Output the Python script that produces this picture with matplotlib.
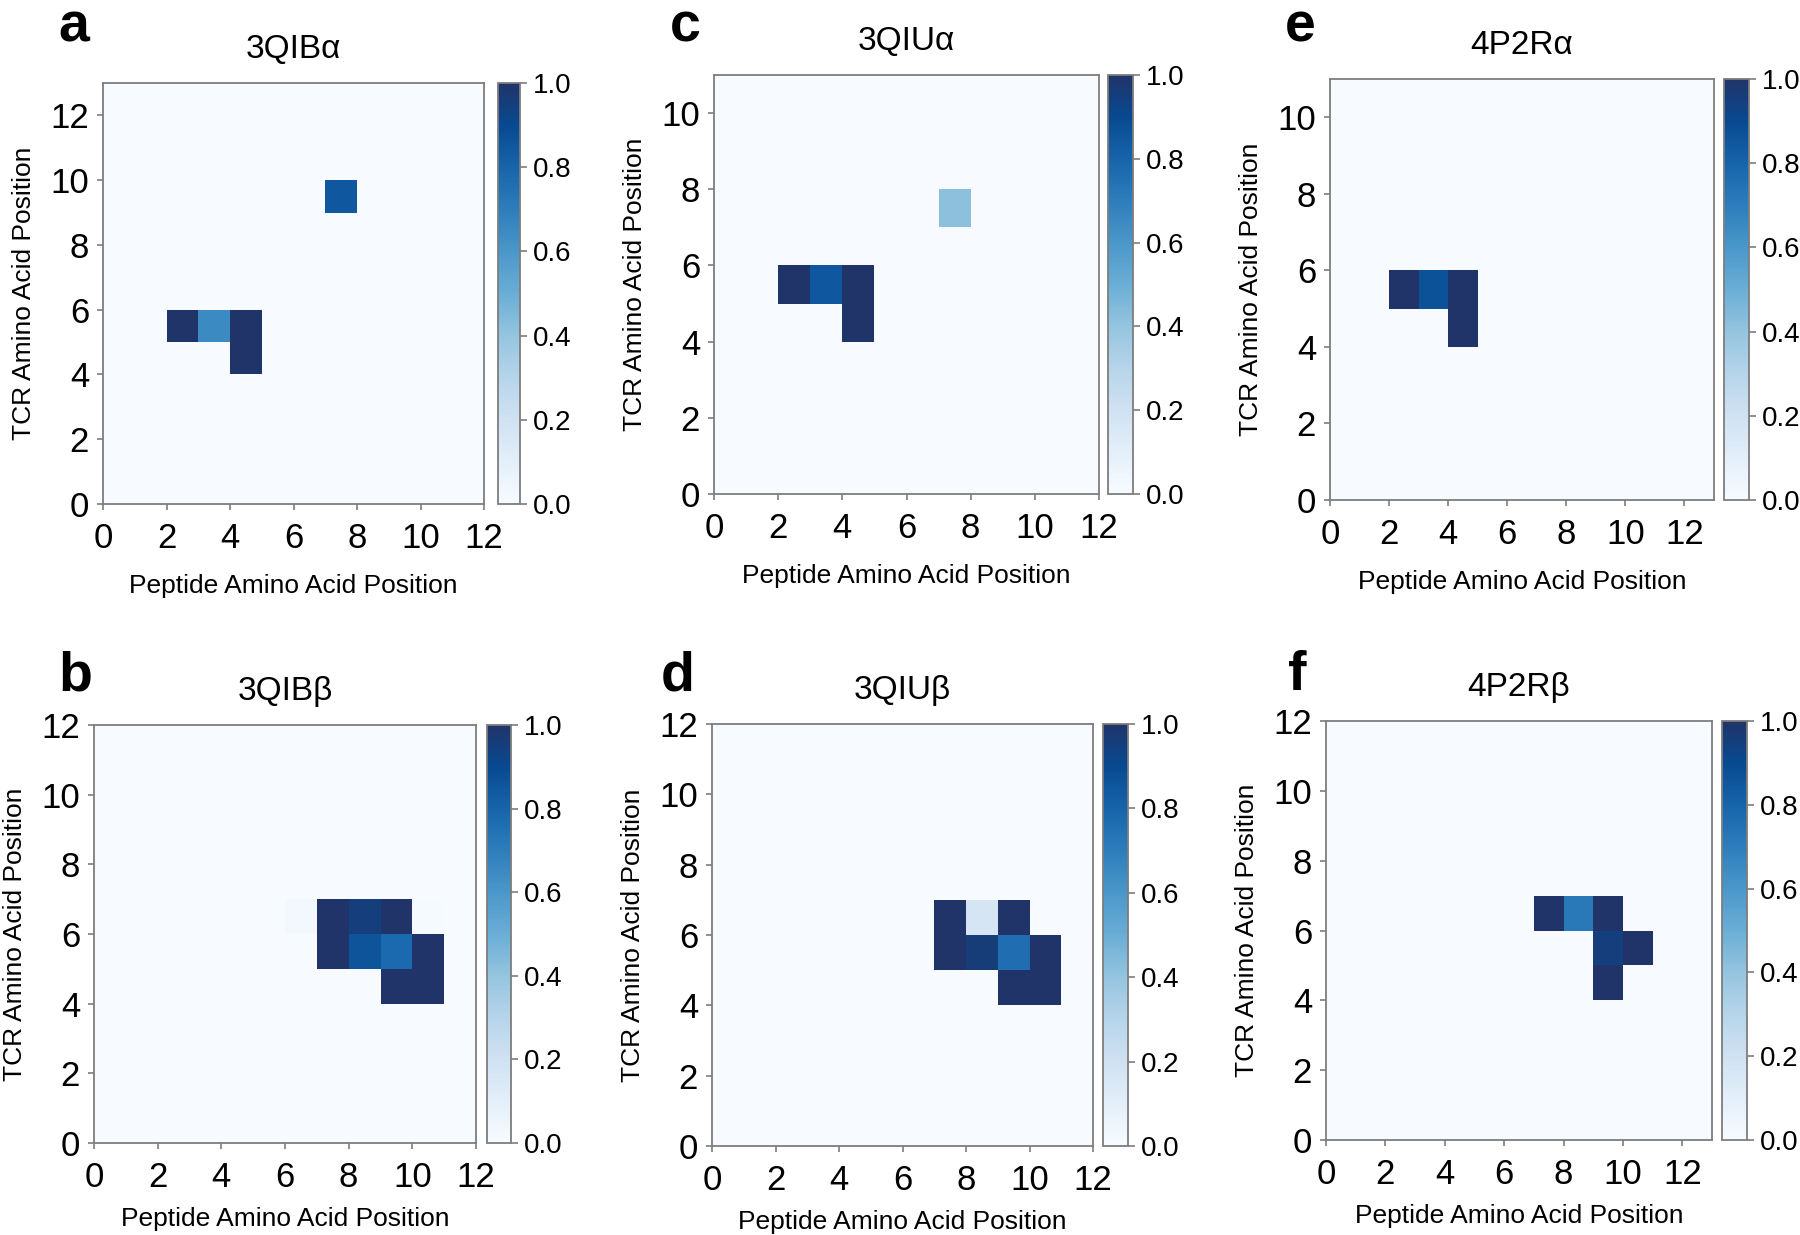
import numpy as np
import matplotlib
matplotlib.use("Agg")
import matplotlib.pyplot as plt
from matplotlib.colors import LinearSegmentedColormap

plt.rcParams['font.family'] = ['Liberation Sans', 'DejaVu Sans']

# data: cells as (peptide position, TCR position, value), everything else is 0
CELLS_3QIB_A = [(2, 5, 1.0), (3, 5, 0.65), (4, 5, 1.0), (4, 4, 1.0), (7, 9, 0.85)]
CELLS_3QIU_A = [(2, 5, 1.0), (3, 5, 0.85), (4, 5, 1.0), (4, 4, 1.0), (7, 7, 0.42)]
CELLS_4P2R_A = [(2, 5, 1.0), (3, 5, 0.87), (4, 5, 1.0), (4, 4, 1.0)]
CELLS_3QIB_B = [(6, 6, 0.03), (7, 6, 1.0), (8, 6, 0.95), (9, 6, 1.0), (10, 6, 0.01),
                (7, 5, 1.0), (8, 5, 0.86), (9, 5, 0.78), (10, 5, 1.0),
                (9, 4, 1.0), (10, 4, 1.0)]
CELLS_3QIU_B = [(7, 6, 1.0), (8, 6, 0.17), (9, 6, 1.0),
                (7, 5, 1.0), (8, 5, 0.96), (9, 5, 0.76), (10, 5, 1.0),
                (9, 4, 1.0), (10, 4, 1.0)]
CELLS_4P2R_B = [(7, 6, 1.0), (8, 6, 0.72), (9, 6, 1.0),
                (9, 5, 0.95), (10, 5, 1.0), (9, 4, 1.0)]

# grid size (peptide length, TCR length)
SIZE_3QIB_A = (12, 13)
SIZE_3QIU_A = (12, 11)
SIZE_4P2R_A = (13, 11)
SIZE_3QIB_B = (12, 12)
SIZE_3QIU_B = (12, 12)
SIZE_4P2R_B = (13, 12)

TITLES = ["3QIBα", "3QIBβ", "3QIUα", "3QIUβ", "4P2Rα", "4P2Rβ"]
LETTERS = ["a", "b", "c", "d", "e", "f"]

W, H = 1800, 1235
fig = plt.figure(figsize=(W / 100, H / 100), dpi=100)

blues = plt.cm.Blues(np.linspace(0, 0.9, 10))
cmap = LinearSegmentedColormap.from_list(
    "blues_navy", list(blues) + [(0x21 / 255, 0x34 / 255, 0x6a / 255, 1.0)])

SPINE = "#7d7d7d"

# pixel boxes: axes (left, top, right, bottom), colorbar (left, right), letter x, y
panels = [
    (CELLS_3QIB_A, SIZE_3QIB_A, (103, 83, 484, 504), (498, 520), 58, 42),
    (CELLS_3QIB_B, SIZE_3QIB_B, (94, 725, 476, 1143), (487, 511), 58, 690),
    (CELLS_3QIU_A, SIZE_3QIU_A, (714, 75, 1099, 494), (1108, 1133), 670, 42),
    (CELLS_3QIU_B, SIZE_3QIU_B, (712, 724, 1093, 1146), (1103, 1128), 661, 690),
    (CELLS_4P2R_A, SIZE_4P2R_A, (1330, 79, 1714, 500), (1724, 1749), 1285, 42),
    (CELLS_4P2R_B, SIZE_4P2R_B, (1326, 721, 1712, 1140), (1722, 1747), 1288, 690),
]


def px_rect(l, t, r, b):
    return [l / W, 1 - b / H, (r - l) / W, (b - t) / H]


for i, (cells, size, box, cbx, lx, ly) in enumerate(panels):
    nx, ny = size
    grid = np.zeros((ny, nx))
    for x, y, v in cells:
        grid[y, x] = v

    ax = fig.add_axes(px_rect(*box))
    mesh = ax.pcolormesh(np.arange(nx + 1), np.arange(ny + 1), grid,
                         cmap=cmap, vmin=0, vmax=1)
    ax.set_xlim(0, nx)
    ax.set_ylim(0, ny)
    ax.set_xticks(np.arange(0, nx + 1, 2))
    ax.set_yticks(np.arange(0, ny + 1, 2))
    ax.tick_params(labelsize=25, length=4, width=1.2, color=SPINE)
    ax.tick_params(axis="x", pad=9)
    ax.tick_params(axis="y", pad=6)
    for s in ax.spines.values():
        s.set_color(SPINE)
        s.set_linewidth(1.3)
    bottom_row = box[1] > 600
    ax.set_xlabel("Peptide Amino Acid Position", fontsize=19,
                  labelpad=9 if bottom_row else 14)
    ax.set_ylabel("TCR Amino Acid Position", fontsize=19, labelpad=10)
    ax.set_title(TITLES[i], fontsize=24, pad=18)

    cax = fig.add_axes(px_rect(cbx[0], box[1], cbx[1], box[3]))
    cb = fig.colorbar(mesh, cax=cax, ticks=[0, 0.2, 0.4, 0.6, 0.8, 1.0])
    cb.ax.set_yticklabels(["0.0", "0.2", "0.4", "0.6", "0.8", "1.0"])
    cb.ax.tick_params(labelsize=20, length=5, width=1.2, color=SPINE, pad=4)
    cb.outline.set_edgecolor(SPINE)
    cb.outline.set_linewidth(1.3)

    fig.text(lx / W, 1 - ly / H, LETTERS[i], fontsize=40, fontweight="bold",
             va="baseline", ha="left")

fig.savefig("out.png", dpi=100)
